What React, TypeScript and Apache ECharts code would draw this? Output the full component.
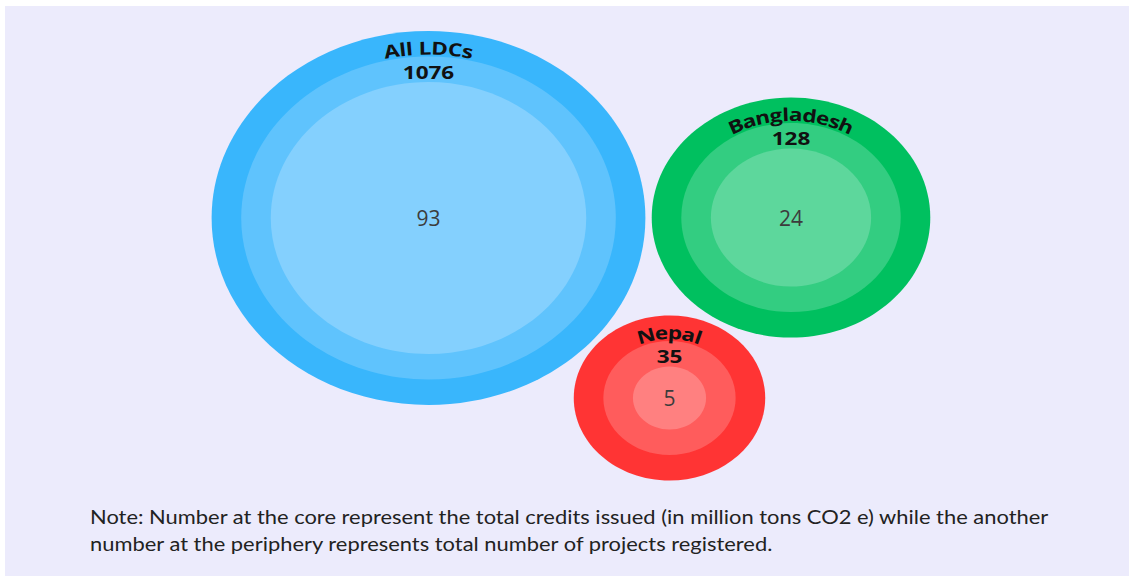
import React, { useEffect, useRef } from 'react';
import * as echarts from 'echarts';

// Regions, project counts (periphery) and credits issued in million t CO2e (core)
const regions = ['All LDCs', 'Bangladesh', 'Nepal'];
const projectsRegistered = [1076, 128, 35];
const creditsIssued = [93, 24, 5];

// Bubble centres, in axis units (the hidden axes map one unit to one pixel)
const centerX = [428.5, 791, 669.5];
const centerY = [218, 217.5, 398];

const noteLines = [
  'Note: Number at the core represent the total credits issued (in million tons CO2 e) while the another',
  'number at the periphery represents total number of projects registered.',
];

const W = 1129;
const H = 576;
const ASPECT = 1.16; // horizontal stretch of every bubble
const CORE_SCALE = 14.1; // core radius per sqrt(credit)
const RING = 25.5; // thickness of each outer ring
const GLYPH_SX = 1.25;
const LABEL_FONT = '"Open Sans", "Noto Sans", sans-serif';

const palettes = [
  ['#39b6fc', '#5fc3fd', '#84d0fe'],
  ['#00c05f', '#33cd81', '#5dd79c'],
  ['#ff3434', '#ff5c5c', '#ff8080'],
];

let measureCtx: CanvasRenderingContext2D | null = null;
function charWidth(ch: string, font: string): number {
  if (!measureCtx) measureCtx = document.createElement('canvas').getContext('2d');
  measureCtx!.font = font;
  return measureCtx!.measureText(ch).width;
}

// Lays a word out along the top arc of an ellipse, one glyph per element
function arcText(word: string, cx: number, cy: number, r: number) {
  const font = `bold 18px ${LABEL_FONT}`;
  const widths = word.split('').map((ch) => charWidth(ch, font) * GLYPH_SX);
  const total = widths.reduce((a, b) => a + b, 0);
  const a = ASPECT * r;
  const b = r;
  let acc = 0;
  return word.split('').map((ch, i) => {
    const mid = acc + widths[i] / 2;
    acc += widths[i];
    const theta = (mid - total / 2) / ASPECT / r;
    const x = cx + a * Math.sin(theta);
    const y = cy - b * Math.cos(theta);
    const rot = -Math.atan2(b * Math.sin(theta), a * Math.cos(theta));
    return {
      type: 'text',
      x,
      y,
      rotation: rot,
      scaleX: GLYPH_SX,
      style: {
        text: ch,
        fontSize: 18,
        fontWeight: 'bold',
        fontFamily: LABEL_FONT,
        fill: '#111',
        align: 'center',
        verticalAlign: 'middle',
      },
    };
  });
}

export default function App() {
  const ref = useRef<HTMLDivElement>(null);

  useEffect(() => {
    if (!ref.current) return;
    const chart = echarts.init(ref.current, null, { renderer: 'svg' });

    const data = regions.map((name, i) => ({
      name,
      value: [centerX[i], centerY[i], creditsIssued[i], projectsRegistered[i]],
    }));

    const renderItem = (params: any, api: any) => {
      const i = params.dataIndex;
      const c = api.coord([api.value(0), api.value(1)]);
      const credits = api.value(2);
      const projects = api.value(3);
      const core = CORE_SCALE * Math.sqrt(credits);
      const radii = [core + 2 * RING, core + RING, core];
      const pal = palettes[i];
      const rings = radii.map((r, k) => {
        const [rx, ry] = api.size([ASPECT * r, r], [api.value(0), api.value(1)]);
        return {
          type: 'ellipse',
          shape: { cx: c[0], cy: c[1], rx, ry },
          style: { fill: pal[k] },
        };
      });
      const outer = api.size([0, radii[0]], [api.value(0), api.value(1)])[1];
      return {
        type: 'group',
        children: [
          ...rings,
          ...arcText(regions[i], c[0], c[1], outer - 16.5),
          {
            type: 'text',
            x: c[0],
            y: c[1] - (outer - 40.5),
            scaleX: GLYPH_SX,
            style: {
              text: String(projects),
              fontSize: 18,
              fontWeight: 'bold',
              fontFamily: LABEL_FONT,
              fill: '#111',
              align: 'center',
              verticalAlign: 'middle',
            },
          },
          {
            type: 'text',
            x: c[0],
            y: c[1],
            style: {
              text: String(credits),
              fontSize: 21,
              fontWeight: 'normal',
              fontFamily: LABEL_FONT,
              fill: '#3c3c3c',
              align: 'center',
              verticalAlign: 'middle',
            },
          },
        ],
      };
    };

    chart.setOption({
      animation: false,
      backgroundColor: '#ffffff',
      grid: { left: 0, right: 0, top: 0, bottom: 0 },
      xAxis: { type: 'value', min: 0, max: W, show: false },
      yAxis: { type: 'value', min: 0, max: H, inverse: true, show: false },
      graphic: [
        {
          type: 'rect',
          z: -10,
          shape: { x: 5, y: 6, width: W - 5, height: H - 6 },
          style: { fill: '#ecebfc' },
        },
        ...noteLines.map((line, k) => ({
          type: 'text',
          left: 90,
          top: 507 + k * 27,
          scaleX: 1.153,
          style: {
            text: line,
            fontSize: 19,
            fontFamily: 'Lato, "Noto Sans", sans-serif',
            fill: '#222',
          },
        })),
      ],
      series: [
        {
          type: 'custom',
          coordinateSystem: 'cartesian2d',
          renderItem,
          data,
          silent: true,
        },
      ],
    });

    return () => chart.dispose();
  }, []);

  return (
    <div
      ref={ref}
      style={{ position: 'absolute', left: 0, top: 0, width: W, height: H }}
    />
  );
}
